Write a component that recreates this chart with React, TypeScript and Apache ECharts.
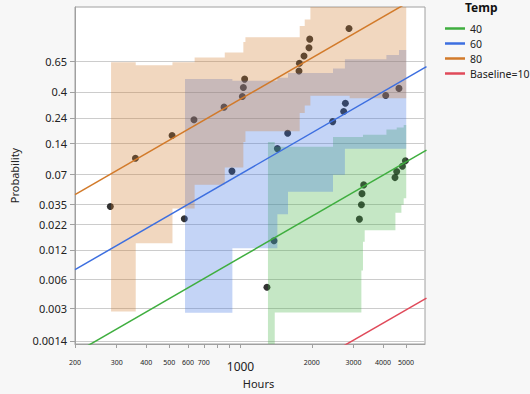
import React, { useEffect, useRef } from 'react';
import * as echarts from 'echarts';

// ---------- axis ticks ----------
const yTickProbs = [0.0014, 0.003, 0.006, 0.012, 0.022, 0.035, 0.07, 0.14, 0.24, 0.4, 0.65];
const yTickLabels = ['0.0014', '0.003', '0.006', '0.012', '0.022', '0.035', '0.07', '0.14', '0.24', '0.4', '0.65'];
const xTickHours = [200, 300, 400, 500, 600, 700, 800, 900, 1000, 2000, 3000, 4000, 5000];
const xLabelHours = [200, 300, 400, 500, 600, 700, 1000, 2000, 3000, 4000, 5000];
const hoursRange = [200, 6013];
const probRange = [0.001298, 0.97771];

// ---------- failure points (hours, probability) ----------
const hours80 = [282, 360, 514, 636, 852, 1018, 1028, 1041, 1766, 1773, 1854, 1946, 1960, 2871];
const prob80 = [0.0331, 0.1002, 0.1661, 0.2318, 0.2988, 0.3666, 0.4323, 0.498, 0.5662, 0.6332, 0.6968, 0.7645, 0.8308, 0.8982];
const hours60 = [579, 920, 1431, 1582, 2451, 2727, 2773, 4104, 4668];
const prob60 = [0.0249, 0.075, 0.1244, 0.1742, 0.2227, 0.2735, 0.3222, 0.3732, 0.425];
const hours40 = [1293, 1385, 3177, 3240, 3258, 3313, 4491, 4566, 4827, 4970];
const prob40 = [0.00496, 0.01489, 0.0247, 0.0346, 0.0447, 0.0547, 0.0647, 0.0745, 0.0837, 0.0947];

// ---------- fitted lines: [hours, probability] end points ----------
const fit40 = [[200, 0.001047], [6100, 0.12055]];
const fit60 = [[200, 0.00753], [6100, 0.6042]];
const fit80 = [[200, 0.0436], [6100, 0.99574]];
const fitBaseline = [[2500, 0.0011], [6100, 0.00385]];

// ---------- confidence bands (step functions) ----------
const band80X = [284, 361, 516, 640, 858, 1028, 1049, 1778, 1867, 1973, 2891, 5010];
const band80Upper = [0.642, 0.616, 0.642, 0.684, 0.727, 0.81, 0.844, 0.912, 0.941, 0.98, 0.98];
const band80Lower = [0.0028, 0.014, 0.0316, 0.055, 0.0813, 0.144, 0.182, 0.266, 0.309, 0.371, 0.354];

const band60X = [583, 924, 1431, 1587, 2458, 2760, 4132, 4670, 5010];
const band60Upper = [0.498, 0.485, 0.509, 0.55, 0.588, 0.669, 0.705, 0.746];
const band60Lower = [0.00272, 0.0125, 0.0277, 0.0467, 0.0691, 0.124, 0.124, 0.124];

const band40X = [1306, 1395, 2458, 3239, 3290, 3345, 4132, 4510, 4567, 4780, 4888, 5010];
const band40Upper = [0.1443, 0.1298, 0.1603, 0.1603, 0.1686, 0.1686, 0.1881, 0.1881, 0.1972, 0.1972, 0.2071];
const band40Lower = [0.001, 0.00274, 0.00274, 0.00736, 0.01456, 0.019, 0.019, 0.0287, 0.0287, 0.0346, 0.0402];

const colors = { c40: '#3fae3f', c60: '#3d6fe0', c80: '#d27a2a', base: '#e04a5a' };

const W = (p: number) => Math.log(-Math.log(1 - p));
const L = (h: number) => Math.log10(h);
const FONT = 'Noto Sans';

function bandPoints(xs: number[], up: number[], lo: number[]) {
  const pts: number[][] = [];
  for (let i = 0; i < up.length; i++) {
    pts.push([xs[i], up[i]], [xs[i + 1], up[i]]);
  }
  for (let i = lo.length - 1; i >= 0; i--) {
    pts.push([xs[i + 1], lo[i]], [xs[i], lo[i]]);
  }
  return pts;
}

function bandSeries(name: string, xs: number[], up: number[], lo: number[], fill: string) {
  const pts = bandPoints(xs, up, lo);
  return {
    type: 'custom',
    name,
    z: 2,
    clip: true,
    silent: true,
    data: [[L(xs[0]), W(lo[0])]],
    renderItem: (_params: any, api: any) => ({
      type: 'polygon',
      shape: { points: pts.map(([h, p]) => api.coord([L(h), W(p)])) },
      style: { fill },
    }),
  };
}

function pts(hs: number[], ps: number[]) {
  return hs.map((h, i) => [L(h), W(ps[i])]);
}

function lineSeries(name: string, ends: number[][], color: string) {
  return {
    type: 'line',
    name,
    z: 3,
    data: ends.map(([h, p]) => [L(h), W(p)]),
    symbol: 'none',
    clip: true,
    color,
    lineStyle: { color, width: 1.5 },
  };
}

function scatterSeries(name: string, hs: number[], ps: number[]) {
  return {
    type: 'scatter',
    name,
    z: 1,
    data: pts(hs, ps),
    symbolSize: 7,
    itemStyle: { color: '#000' },
  };
}

const yTickW = yTickProbs.map(W);

const option: any = {
  animation: false,
  backgroundColor: '#f7f7f7',
  textStyle: { fontFamily: FONT },
  grid: {
    left: 75,
    right: 105,
    top: 7,
    bottom: 38,
    show: true,
    backgroundColor: '#ffffff',
    borderColor: '#a0a0a0',
    borderWidth: 1,
  },
  xAxis: {
    type: 'value',
    min: L(hoursRange[0]),
    max: L(hoursRange[1]),
    name: 'Hours',
    nameLocation: 'middle',
    nameGap: 34,
    nameTextStyle: { fontSize: 11, color: '#222', fontFamily: FONT, padding: [0, 0, 0, 17] },
    axisLine: { show: true, onZero: false, lineStyle: { color: '#a0a0a0' } },
    axisTick: { show: true, length: 4, lineStyle: { color: '#a0a0a0' }, customValues: xTickHours.map(L) },
    axisLabel: {
      customValues: xLabelHours.map(L),
      margin: 12,
      color: '#222',
      formatter: (v: number) => {
        const h = Math.round(Math.pow(10, v));
        return h === 1000 ? '{big|1000}' : '{small|' + h + '}';
      },
      rich: {
        small: { fontSize: 7, lineHeight: 12, color: '#222', fontFamily: FONT },
        big: { fontSize: 12, lineHeight: 20, color: '#222', fontFamily: FONT },
      },
    },
    splitLine: { show: false },
  },
  yAxis: {
    type: 'value',
    min: W(probRange[0]),
    max: W(probRange[1]),
    name: 'Probability',
    nameLocation: 'middle',
    nameGap: 55,
    nameRotate: 90,
    nameTextStyle: { fontSize: 11, color: '#222', fontFamily: FONT },
    axisLine: { show: true, onZero: false, lineStyle: { color: '#a0a0a0' } },
    axisTick: { show: true, length: 5, lineStyle: { color: '#a0a0a0' }, customValues: yTickW },
    axisLabel: {
      customValues: yTickW,
      margin: 8,
      fontSize: 11,
      color: '#222',
      fontFamily: FONT,
      formatter: (v: number) => {
        let best = 0;
        for (let i = 0; i < yTickW.length; i++) {
          if (Math.abs(yTickW[i] - v) < Math.abs(yTickW[best] - v)) best = i;
        }
        return yTickLabels[best];
      },
    },
    splitLine: { show: true, lineStyle: { color: '#cccccc', width: 1 } },
  },
  legend: {
    orient: 'vertical',
    left: 440,
    top: 16,
    itemWidth: 20,
    itemHeight: 2.5,
    itemGap: 0,
    icon: 'rect',
    data: ['40', '60', '80', 'Baseline=10'],
    textStyle: { fontSize: 10.5, color: '#222', fontFamily: FONT, lineHeight: 15 },
    selectedMode: false,
  },
  graphic: [
    {
      type: 'text',
      left: 465,
      top: 1,
      style: { text: 'Temp', font: 'bold 12px "Noto Sans"', fill: '#111' },
    },
  ],
  series: [
    scatterSeries('pts80', hours80, prob80),
    scatterSeries('pts60', hours60, prob60),
    scatterSeries('pts40', hours40, prob40),
    bandSeries('band40', band40X, band40Upper, band40Lower, 'rgba(63,174,63,0.3)'),
    bandSeries('band60', band60X, band60Upper, band60Lower, 'rgba(61,111,224,0.3)'),
    bandSeries('band80', band80X, band80Upper, band80Lower, 'rgba(210,122,42,0.3)'),
    lineSeries('40', fit40, colors.c40),
    lineSeries('60', fit60, colors.c60),
    lineSeries('80', fit80, colors.c80),
    lineSeries('Baseline=10', fitBaseline, colors.base),
  ],
};

export default function App() {
  const ref = useRef<HTMLDivElement>(null);
  useEffect(() => {
    document.body.style.margin = '0';
    const chart = echarts.init(ref.current!, undefined, { renderer: 'svg' });
    chart.setOption(option);
    return () => chart.dispose();
  }, []);
  return <div ref={ref} style={{ width: 530, height: 394 }} />;
}
